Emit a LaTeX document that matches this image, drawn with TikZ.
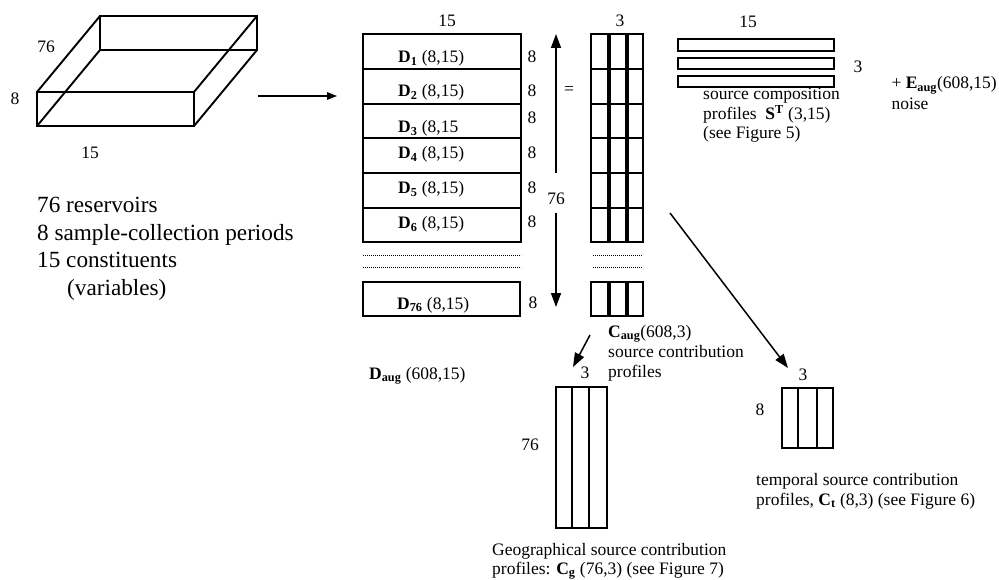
\documentclass[tikz,border=0pt]{standalone}
\usepackage{fontspec}
\setmainfont{Liberation Serif}
\usetikzlibrary{arrows.meta}
\begin{document}
\begin{tikzpicture}[x=1bp,y=-1bp,
  edge/.style={line width=1.9bp},
  blk/.style={draw, line width=2bp},
  lbl/.style={inner sep=0pt, font=\fontsize{17.5bp}{20bp}\selectfont},
  big/.style={inner sep=0pt, font=\fontsize{23.2bp}{28bp}\selectfont},
  arr/.style={line width=1.5bp, -{Triangle[length=14bp,width=10bp]}},
  dotline/.style={line width=0.7bp, dash pattern=on 0.7bp off 1.3bp}]
\useasboundingbox (0,0) rectangle (999,580);

% 3D data box
\coordinate (f1) at (37,92);  \coordinate (f2) at (194,92);
\coordinate (f3) at (194,126); \coordinate (f4) at (37,126);
\coordinate (b1) at (100,16); \coordinate (b2) at (257,16);
\coordinate (b3) at (257,50); \coordinate (b4) at (100,50);
\draw[edge] (b1)--(b2)--(b3)--(b4)--cycle;
\draw[edge] (f1)--(f2)--(f3)--(f4)--cycle;
\draw[edge] (f1)--(b1) (f2)--(b2) (f3)--(b3) (f4)--(b4);
\node[lbl] (box76) at (46,47) {76};
\node[lbl] (box8) at (15,99) {8};
\node[lbl] (box15) at (90,153) {15};

% description
\node[big, anchor=base west] (t1) at (37,213) {76 reservoirs};
\node[big, anchor=base west] (t2) at (37,241) {8 sample-collection periods};
\node[big, anchor=base west] (t3) at (37,268) {15 constituents};
\node[big, anchor=base west] (t4) at (67,296) {(variables)};

% main arrow
\coordinate (ma1) at (258,96);
\coordinate (ma2) at (337,96);
\draw[line width=1.4bp, -{Triangle[length=10bp,width=7.5bp]}] (ma1) -- (ma2);

% D stack
\foreach \ya/\yb in {34/69,69/104,104/138,138/173,173/208,208/242}
  \draw[blk] (363,\ya) rectangle (521,\yb);
\draw[blk] (363,282) rectangle (520,316);
\draw[dotline] (363,255) -- (521,255);
\draw[dotline] (363,267) -- (521,267);
\node[lbl] (d15) at (447,21) {15};
\node[lbl, anchor=base west] (D1) at (398,63) {\textbf{D\textsubscript{1}} (8,15)};
\node[lbl, anchor=base west] (D2) at (398,97) {\textbf{D\textsubscript{2}} (8,15)};
\node[lbl, anchor=base west] (D3) at (398,133) {\textbf{D\textsubscript{3}} (8,15};
\node[lbl, anchor=base west] (D4) at (398,159) {\textbf{D\textsubscript{4}} (8,15)};
\node[lbl, anchor=base west] (D5) at (398,194) {\textbf{D\textsubscript{5}} (8,15)};
\node[lbl, anchor=base west] (D6) at (398,229) {\textbf{D\textsubscript{6}} (8,15)};
\node[lbl, anchor=base west] (D76) at (397,309) {\textbf{D\textsubscript{76}} (8,15)};
\node[lbl] (e1) at (532,57) {8};
\node[lbl] (e2) at (532,91) {8};
\node[lbl] (e3) at (532,118) {8};
\node[lbl] (e4) at (532,153) {8};
\node[lbl] (e5) at (532,188) {8};
\node[lbl] (e6) at (532,222) {8};
\node[lbl] (e76) at (533,303) {8};

% vertical 76 arrow
\node[lbl] (v76) at (556,199) {76};
\coordinate (vu) at (556,173); \coordinate (vt) at (556,34);
\coordinate (vd) at (556,213); \coordinate (vb) at (556,307);
\draw[arr] (vu) -- (vt);
\draw[arr] (vd) -- (vb);
\node[lbl] (eq) at (569,91) {=};

% C stack
\foreach \xa/\xb in {591/607.5,609.5/625.5,627.5/643}{
  \foreach \ya/\yb in {34/69,69/104,104/138,138/173,173/208,208/242}
    \draw[blk] (\xa,\ya) rectangle (\xb,\yb);
  \draw[blk] (\xa,282) rectangle (\xb,316);
}
\draw[dotline] (593,255) -- (642,255);
\draw[dotline] (593,267) -- (642,267);
\node[lbl] (c3) at (620,21) {3};
\node[lbl, anchor=base west] (ca1) at (608,337) {\textbf{C\textsubscript{aug}}(608,3)};
\node[lbl, anchor=base west] (ca2) at (608,357) {source contribution};
\node[lbl, anchor=base west] (ca3) at (608,377) {profiles};

% S^T
\draw[blk] (678,39) rectangle (834,51);
\draw[blk] (678,58) rectangle (834,69);
\draw[blk] (678,76) rectangle (834,87);
\node[lbl] (s15) at (748,22) {15};
\node[lbl] (s3) at (858,67) {3};
\node[lbl, anchor=base west] (sa1) at (703,100) {source composition};
\node[lbl, anchor=base west] (sa2) at (703,120) {profiles~~\textbf{S\textsuperscript{T}} (3,15)};
\node[lbl, anchor=base west] (sa3) at (703,139) {(see Figure 5)};

% noise
\node[lbl, anchor=base east] (n1) at (997,89) {+ \textbf{E\textsubscript{aug}}(608,15)};
\node[lbl, anchor=base] (n2) at (910,110) {noise};

% D_aug
\node[lbl, anchor=base west] (daug) at (369,379) {\textbf{D\textsubscript{aug}} (608,15)};

% geographical
\coordinate (ga1) at (590,335); \coordinate (ga2) at (573,367);
\draw[arr] (ga1) -- (ga2);
\node[lbl] (g3) at (585,373) {3};
\draw[blk] (556,387) rectangle (607,528);
\draw[blk] (572,387) -- (572,528) (589,387) -- (589,528);
\node[lbl] (g76) at (530,445) {76};
\node[lbl, anchor=base west] (gt1) at (492,555) {Geographical source contribution};
\node[lbl, anchor=base west] (gt2) at (492,574) {profiles: \textbf{C\textsubscript{g}} (76,3) (see Figure 7)};

% temporal
\coordinate (ta1) at (670,213); \coordinate (ta2) at (788,368);
\draw[arr] (ta1) -- (ta2);
\node[lbl] (tp3) at (803,375) {3};
\draw[blk] (782,388) rectangle (833,448);
\draw[blk] (798,388) -- (798,448) (817,388) -- (817,448);
\node[lbl] (tp8) at (760,410) {8};
\node[lbl, anchor=base west] (tt1) at (756,485) {temporal source contribution};
\node[lbl, anchor=base west] (tt2) at (756,505) {profiles, \textbf{C\textsubscript{t}} (8,3) (see Figure 6)};
\end{tikzpicture}
\end{document}
